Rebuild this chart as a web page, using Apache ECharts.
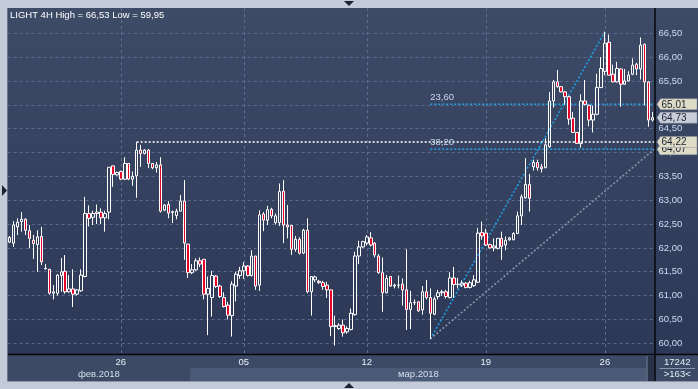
<!DOCTYPE html>
<html><head><meta charset="utf-8">
<script src="https://cdn.jsdelivr.net/npm/echarts@6/dist/echarts.min.js"></script>
<style>html,body{margin:0;padding:0;background:#c3cbd8;}#c{width:698px;height:389px;}</style>
</head><body><div id="c"></div>
<script>
// ---- data (4H bars) ----
const opens = [62.12,62.10,62.44,62.55,62.60,62.36,62.16,62.07,62.24,61.57,61.55,61.05,61.05,61.42,61.51,61.08,61.14,61.03,61.10,61.40,
62.72,62.64,62.72,62.75,62.63,62.75,63.72,63.53,63.60,63.44,63.77,63.44,63.51,64.05,63.98,64.05,63.77,63.68,63.74,62.79,
62.91,62.74,62.68,62.77,62.98,62.08,61.48,61.54,61.73,61.76,61.03,60.96,61.41,61.20,60.96,60.80,60.58,61.20,61.42,61.52,
61.62,61.42,61.83,61.22,62.71,62.58,62.81,62.53,62.53,63.19,62.48,62.47,61.97,62.18,61.89,62.37,61.08,61.33,61.30,61.27,
61.22,61.12,60.35,60.31,60.38,60.24,60.29,60.60,61.83,62.02,62.10,62.21,62.10,61.83,61.48,61.06,61.40,61.20,61.22,61.24,
61.12,60.71,60.85,60.87,60.70,61.08,60.96,60.61,60.98,61.06,61.08,60.96,61.37,61.23,61.22,61.26,61.17,61.21,61.28,62.32,
62.31,62.07,62.00,61.99,62.20,62.06,62.17,62.17,62.30,62.67,63.05,63.33,63.70,63.79,63.70,63.68,64.12,65.08,65.48,65.38,
65.27,65.17,64.72,64.42,64.19,65.08,64.99,64.68,64.80,65.36,65.70,66.31,65.64,65.48,65.75,65.43,65.50,65.64,65.85,65.75,
66.27,65.48,64.68];
const closes = [62.22,62.48,62.54,62.60,62.37,62.20,62.09,62.23,61.71,61.56,61.05,61.08,61.43,61.50,61.08,61.14,61.03,61.12,61.43,62.72,
62.62,62.72,62.75,62.63,62.72,63.69,63.54,63.58,63.44,63.77,63.44,63.50,64.05,63.98,64.05,63.77,63.68,63.74,62.77,62.90,
62.73,62.76,62.77,62.98,62.10,61.48,61.54,61.73,61.66,61.03,61.15,61.42,61.19,60.98,60.77,60.59,61.24,61.45,61.52,61.62,
61.42,61.83,61.20,62.69,62.58,62.80,62.67,62.67,63.18,62.48,62.44,61.97,62.18,61.89,62.37,61.08,61.40,61.39,61.27,61.19,
61.12,60.35,60.37,60.38,60.22,60.31,60.63,61.83,62.02,62.13,62.23,62.06,61.85,61.48,61.06,61.36,61.20,61.22,61.22,61.12,
60.71,60.85,60.86,60.68,61.08,60.96,60.63,60.93,61.06,61.08,60.98,61.37,61.23,61.24,61.26,61.17,61.27,61.33,62.31,62.25,
62.06,62.00,62.04,62.20,62.03,62.16,62.21,62.30,62.67,63.07,63.33,63.04,63.79,63.68,63.66,64.16,65.08,65.48,65.38,65.27,
65.17,64.70,64.42,64.19,65.08,65.01,64.68,64.80,65.36,65.76,66.29,65.62,65.48,65.76,65.43,65.50,65.62,65.83,65.75,66.25,
65.48,64.68,64.73];
const lows = [62.10,62.02,62.27,62.34,62.27,61.99,61.77,61.50,61.64,61.55,61.02,60.92,61.00,61.08,61.04,61.06,60.76,61.00,61.08,61.38,
62.45,62.48,62.50,62.50,62.34,62.60,63.28,63.52,63.42,63.42,63.42,63.30,63.05,63.70,63.96,63.67,63.65,63.58,62.74,62.77,
62.62,62.52,62.60,62.77,61.75,61.37,61.45,61.52,61.60,60.92,60.17,60.56,61.16,60.95,60.75,60.50,60.14,60.88,61.35,61.35,
61.40,61.40,61.12,61.10,62.35,62.48,62.62,62.49,62.46,62.10,62.20,61.85,61.92,61.86,61.87,61.05,60.58,61.28,61.25,61.12,
60.95,60.15,59.95,60.28,60.14,60.20,60.27,60.58,61.66,62.00,62.05,62.03,61.80,61.46,60.66,61.05,61.18,61.15,61.15,60.79,
60.28,60.30,60.80,60.66,60.60,60.92,60.09,60.59,60.92,61.00,60.94,60.94,60.95,61.15,61.18,61.15,61.15,61.18,61.26,62.17,
62.04,61.99,61.93,61.97,61.75,61.95,62.15,62.16,62.29,62.48,63.03,62.76,63.62,63.62,63.58,63.67,64.10,64.94,65.36,65.26,
65.00,64.58,64.41,64.18,64.10,64.99,64.55,64.42,64.78,65.35,65.62,65.62,65.47,65.47,64.96,65.42,65.49,65.62,65.62,65.53,
64.99,64.54,64.65];
const highs = [62.25,62.56,62.62,62.75,62.62,62.48,62.27,62.37,62.44,61.66,61.56,61.22,61.45,61.79,61.85,61.43,61.55,61.14,61.55,63.07,
62.89,62.78,62.91,62.83,62.78,63.69,63.72,63.60,63.62,63.90,63.78,63.60,64.22,64.16,64.07,64.07,63.78,63.80,63.90,62.92,
62.98,62.78,62.82,63.11,63.42,62.08,61.66,61.78,61.80,61.76,61.40,61.52,61.43,61.23,61.07,60.87,61.30,61.50,61.60,61.70,
61.64,61.95,61.83,62.79,62.75,62.88,62.84,62.72,63.35,63.42,62.90,62.47,62.25,62.22,62.40,62.62,61.40,61.42,61.33,61.31,
61.29,61.12,60.58,60.42,60.50,60.36,60.73,61.92,62.15,62.15,62.27,62.33,62.12,61.87,61.80,61.43,61.41,61.25,61.42,61.36,
61.97,61.10,60.92,60.88,61.20,61.33,61.15,60.98,61.12,61.12,61.12,61.49,61.60,61.37,61.32,61.28,61.31,61.43,62.42,62.55,
62.40,62.09,62.20,62.20,62.34,62.24,62.23,62.33,62.76,63.12,63.88,63.55,63.85,63.85,63.76,64.30,65.27,65.52,65.73,65.39,
65.29,65.19,64.85,64.42,65.22,65.52,65.00,64.98,65.65,66.00,66.53,66.47,65.84,65.90,65.76,65.75,65.70,65.97,65.88,66.41,
66.28,65.50,64.85];

// ---- axis ticks / labels ----
const dayTickIndex = [28, 59, 90, 120, 150];
const dayTickLabels = ['26', '05', '12', '19', '26'];
const monthStartIndex = [0, 46];
const monthLabels = ['фев.2018', 'мар.2018'];
// ---- analysis objects ----
const fibRatios = [0.236, 0.382];
const fibLabels = ['23,60', '38,20'];
const fibLowIndex = 106, fibHighIndex = 150;
const refLineIndex = 32;          // dotted level from this bar's high
const footerTexts = ['17242', '>163<'];

const n = closes.length;
const categories = closes.map((_, i) => String(i));
const candleData = closes.map((c, i) => [opens[i], c, lows[i], highs[i]]);
const hi = Math.max(...highs), lo = Math.min(...lows);
const fmt = v => v.toFixed(2).replace('.', ',');
const fibHigh = highs[fibHighIndex], fibLow = lows[fibLowIndex];
const fibLevels = fibRatios.map(r => fibHigh - r * (fibHigh - fibLow));
const refLevel = highs[refLineIndex];
const edge = n - 0.5;

const FONT = 'Liberation Sans, Arial, sans-serif';
const W = 698, PL = 7.5, PT = 8, PB = 354, SB = 381, GR = 43.5;
const PR = W - GR;

const chart = echarts.init(document.getElementById('c'), null, {renderer: 'canvas'});
const dotted = (color, width) => ({color, width, type: [2, 2]});
chart.setOption({
  animation: false,
  backgroundColor: '#c3cbd8',
  title: {text: `LIGHT 4H High = ${fmt(hi)} Low = ${fmt(lo)}`, left: 10, top: 10, padding: 0,
    textStyle: {color: '#ffffff', fontSize: 9.5, fontWeight: 'normal', fontFamily: FONT}},
  grid: {left: 7.7, right: GR, top: 33.2, bottom: 45.7},
  xAxis: [{
    type: 'category', data: categories, boundaryGap: true,
    axisLine: {show: false}, axisTick: {show: false}, splitLine: {show: false},
    axisLabel: {interval: (i) => dayTickIndex.includes(i),
      formatter: (v, i) => dayTickLabels[dayTickIndex.indexOf(i)] || '',
      color: '#e8eef8', fontSize: 9.5, fontFamily: FONT, margin: 14}
  }, {
    type: 'value', min: -0.5, max: edge, show: false
  }],
  yAxis: [{
    type: 'value', position: 'right', min: 60, max: 66.5, interval: 0.5, scale: true,
    axisLine: {show: false}, axisTick: {show: false},
    axisLabel: {formatter: v => fmt(v), color: '#cfdcf2', fontSize: 9.5, fontFamily: FONT, margin: 4},
    splitLine: {lineStyle: {color: '#5a6a8e', type: [3, 3], width: 1}}
  }],
  series: [
    {type: 'candlestick', data: candleData, barWidth: 3, clip: false, z: 3,
      itemStyle: {color: 'rgba(0,0,0,0)', color0: '#e4062a', borderColor: '#ffffff', borderColor0: '#ffffff', borderWidth: 1}},
    {type: 'line', xAxisIndex: 1, symbol: 'none', clip: false, z: 2, lineStyle: dotted('#d4d6de', 2),
      data: [[refLineIndex, refLevel], [edge, refLevel]]},
    {type: 'line', xAxisIndex: 1, symbol: 'none', clip: false, z: 2, lineStyle: dotted('#1f9fe6', 1.6),
      data: [[fibLowIndex, fibLevels[0]], [edge, fibLevels[0]]]},
    {type: 'line', xAxisIndex: 1, symbol: 'none', clip: false, z: 2, lineStyle: dotted('#1f9fe6', 1.6),
      data: [[fibLowIndex, fibLevels[1]], [edge, fibLevels[1]]]},
    {type: 'line', xAxisIndex: 1, symbol: 'none', clip: false, z: 2, lineStyle: dotted('#1f9fe6', 1.6),
      data: [[fibLowIndex, fibLow], [fibHighIndex, fibHigh]]},
    {type: 'line', xAxisIndex: 1, symbol: 'none', clip: false, z: 2, lineStyle: dotted('#8a94aa', 1.6),
      data: [[fibLowIndex, fibLow], [edge, fibLevels[1]]]}
  ]
});

const px = i => chart.convertToPixel({xAxisIndex: 1}, i);
const py = v => chart.convertToPixel({yAxisIndex: 0}, v);
const g = [];
// plot background
g.push({type: 'rect', z: -5, silent: true, shape: {x: PL, y: PT, width: W - PL, height: PB - PT},
  style: {fill: new echarts.graphic.LinearGradient(0, 0, 0, 1, [{offset: 0, color: '#3e4b67'}, {offset: 1, color: '#2c3856'}])}});
// date strip
g.push({type: 'rect', z: -5, silent: true, shape: {x: PL, y: PB, width: W - PL, height: SB - PB}, style: {fill: '#3d4a65'}});
const mEnd = PR - 8;
monthStartIndex.forEach((mi, k) => {
  const x0 = k === 0 ? PL : px(mi - 0.5);
  const x1 = k + 1 < monthStartIndex.length ? px(monthStartIndex[k + 1] - 0.5) : mEnd;
  if (k > 0) g.push({type: 'rect', z: -4, silent: true, shape: {x: x0, y: 368, width: x1 - x0, height: SB - 368}, style: {fill: '#4b5a77'}});
  g.push({type: 'text', z: 5, silent: true, style: {text: monthLabels[k], x: (x0 + x1) / 2, y: 374.5, align: 'center', verticalAlign: 'middle',
    fill: '#d6dff0', fontSize: 9.5, fontFamily: FONT}});
});
// scroll strip
g.push({type: 'rect', z: -3, silent: true, shape: {x: mEnd, y: 356, width: PR - mEnd, height: SB - 356}, style: {fill: '#283147'}});
g.push({type: 'line', z: -3, silent: true, shape: {x1: mEnd + 0.5, y1: 356, x2: mEnd + 0.5, y2: SB}, style: {stroke: '#7b889e', lineWidth: 1}});
// vertical week gridlines
dayTickIndex.forEach(i => {
  const x = Math.round(px(i)) + 0.5;
  g.push({type: 'line', z: 1, silent: true, shape: {x1: x, y1: PT, x2: x, y2: PB}, style: {stroke: '#5e6e92', lineWidth: 1, lineDash: [3, 3]}});
});
// frame lines
g.push({type: 'line', z: 6, silent: true, shape: {x1: PL, y1: PB + 0.5, x2: W, y2: PB + 0.5}, style: {stroke: '#05070c', lineWidth: 1.5}});
g.push({type: 'line', z: 6, silent: true, shape: {x1: PR + 0.5, y1: PT, x2: PR + 0.5, y2: SB}, style: {stroke: '#05070c', lineWidth: 1.5}});
g.push({type: 'line', z: 6, silent: true, shape: {x1: PL, y1: PT, x2: PL, y2: SB}, style: {stroke: '#6c7890', lineWidth: 1}});
g.push({type: 'line', z: 6, silent: true, shape: {x1: PL, y1: SB + 0.5, x2: W, y2: SB + 0.5}, style: {stroke: '#8d97a8', lineWidth: 1}});
// footer counts
g.push({type: 'text', z: 6, silent: true, style: {text: footerTexts[0], x: (PR + W) / 2 + 1, y: 362, align: 'center', verticalAlign: 'middle', fill: '#e6ecf6', fontSize: 9.5, fontFamily: FONT}});
g.push({type: 'line', z: 6, silent: true, shape: {x1: PR + 5, y1: 368.5, x2: W - 3, y2: 368.5}, style: {stroke: '#8896ad', lineWidth: 1}});
g.push({type: 'text', z: 6, silent: true, style: {text: footerTexts[1], x: (PR + W) / 2 + 1, y: 374.5, align: 'center', verticalAlign: 'middle', fill: '#e6ecf6', fontSize: 9.5, fontFamily: FONT}});
// fib labels
fibLevels.forEach((lv, k) => {
  g.push({type: 'text', z: 4, silent: true, style: {text: fibLabels[k], x: px(fibLowIndex), y: py(lv) - 2, align: 'left', verticalAlign: 'bottom',
    fill: '#c8d5ea', fontSize: 9.5, fontFamily: FONT}});
});
// price tags
const tags = [
  {v: fibLevels[1], bg: '#dedcc6'},
  {v: refLevel, bg: '#dedcc6'},
  {v: fibLevels[0], bg: '#dedcc6'},
  {v: closes[n - 1], bg: '#c9ccd9'}
];
tags.forEach((t, k) => {
  const y = py(t.v);
  g.push({type: 'polygon', z: 7 + k, silent: true, shape: {points: [[PR + 2.5, y], [PR + 6, y - 5.5], [W - 1, y - 5.5], [W - 1, y + 5.5], [PR + 6, y + 5.5]]},
    style: {fill: t.bg, stroke: '#8a8f9c', lineWidth: 0.5}});
  g.push({type: 'text', z: 7 + k, silent: true, style: {text: fmt(t.v), x: PR + 7, y: y + 0.5, align: 'left', verticalAlign: 'middle', fill: '#1a2232', fontSize: 10, fontFamily: FONT}});
});
// ui arrows
g.push({type: 'polygon', z: 8, silent: true, shape: {points: [[344, 1], [354, 1], [349, 6]]}, style: {fill: '#1a2233'}});
g.push({type: 'polygon', z: 8, silent: true, shape: {points: [[344, 388], [354, 388], [349, 383]]}, style: {fill: '#1a2233'}});
g.push({type: 'polygon', z: 8, silent: true, shape: {points: [[2, 185], [2, 196], [7, 190.5]]}, style: {fill: '#1a2233'}});
chart.setOption({graphic: g});
</script></body></html>
